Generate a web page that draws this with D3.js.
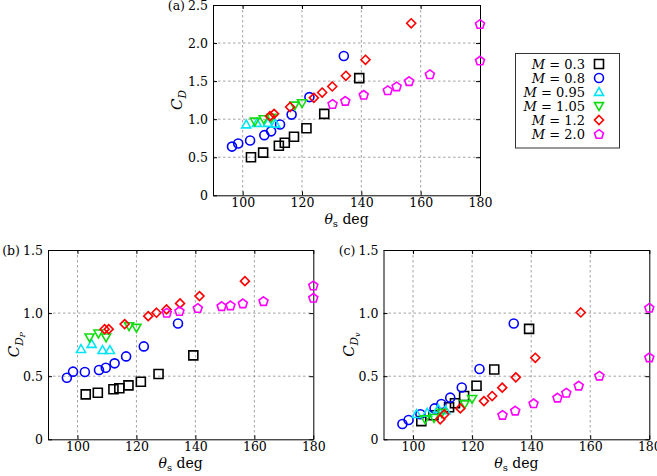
<!DOCTYPE html>
<html><head><meta charset="utf-8">
<script src="https://cdn.jsdelivr.net/npm/d3@7"></script>
<style>
html,body{margin:0;padding:0;background:#fff;}
svg{display:block;}
svg text{font-family:"DejaVu Serif",serif;}
</style></head>
<body>
<svg id="chart" width="657" height="476"></svg>
<script>
// ---------------- data ----------------
const seriesNames = ["0.3", "0.8", "0.95", "1.05", "1.2", "2.0"];
const xTicks = [100, 120, 140, 160, 180];
const yTicksA = [0, 0.5, 1.0, 1.5, 2.0, 2.5];
const yTicksBC = [0, 0.5, 1.0, 1.5];

const thetaM03 = [102.8, 106.9, 112.2, 114.2, 117.3, 121.5, 127.5, 139.3];
const cdM03    = [0.50, 0.56, 0.65, 0.69, 0.77, 0.88, 1.07, 1.54];
const cdpM03   = [0.356, 0.369, 0.396, 0.404, 0.427, 0.456, 0.517, 0.665];
const cdvM03   = [0.144, 0.19, 0.254, 0.286, 0.343, 0.424, 0.553, 0.875];

const thetaM08 = [96.4, 98.5, 102.5, 107.3, 109.6, 112.6, 116.5, 122.5, 134.1];
const cdM08    = [0.64, 0.68, 0.72, 0.79, 0.84, 0.93, 1.06, 1.29, 1.83];
const cdpM08   = [0.488, 0.536, 0.533, 0.549, 0.567, 0.602, 0.657, 0.736, 0.918];
const cdvM08   = [0.121, 0.153, 0.198, 0.245, 0.28, 0.33, 0.41, 0.557, 0.918];

const thetaM095 = [101.2, 104.8, 108.5, 111.0];
const cdM095    = [0.93, 0.95, 0.95, 0.94];
const cdpM095   = [0.715, 0.755, 0.707, 0.707];
const cdvM095   = [0.20, 0.21, 0.24, 0.23];

const thetaM105 = [104.1, 107.1, 109.7, 117.5, 120.0];
const cdM105    = [0.97, 1.00, 1.02, 1.18, 1.21];
const cdpM105   = [0.808, 0.839, 0.808, 0.897, 0.884];
const cdvM105   = [0.16, 0.17, 0.21, 0.28, 0.32];

const thetaM12 = [109.2, 110.6, 116.0, 124.0, 126.8, 130.2, 134.8, 141.4, 156.8];
const cdM12    = [1.04, 1.07, 1.16, 1.28, 1.35, 1.43, 1.57, 1.78, 2.26];
const cdpM12   = [0.873, 0.873, 0.913, 0.976, 1.003, 1.029, 1.077, 1.135, 1.253];
const cdvM12   = [0.158, 0.198, 0.245, 0.303, 0.343, 0.409, 0.491, 0.646, 1.005];

const thetaM20 = [130.3, 134.6, 140.8, 148.9, 151.9, 156.1, 163.1, 180, 180];
const cdM20    = [1.20, 1.24, 1.32, 1.38, 1.43, 1.50, 1.59, 2.25, 1.77];
const cdpM20   = [1.003, 1.016, 1.040, 1.055, 1.061, 1.077, 1.095, 1.219, 1.121];
const cdvM20   = [0.193, 0.227, 0.285, 0.33, 0.369, 0.425, 0.504, 1.042, 0.649];

// ---------------- styling ----------------
const colors = ["#000000", "#0000ff", "#00e4f4", "#10dd10", "#ff0000", "#ff00ff"];
const shapes = ["square", "circle", "up", "down", "diamond", "pentagon"];
const thetas = [thetaM03, thetaM08, thetaM095, thetaM105, thetaM12, thetaM20];
const cds  = [cdM03, cdM08, cdM095, cdM105, cdM12, cdM20];
const cdps = [cdpM03, cdpM08, cdpM095, cdpM105, cdpM12, cdpM20];
const cdvs = [cdvM03, cdvM08, cdvM095, cdvM105, cdvM12, cdvM20];

const FONT = 12.5;

function markerPath(shape) {
  const s = 4.5;
  switch (shape) {
    case "square": return `M${-s},${-s}H${s}V${s}H${-s}Z`;
    case "circle": return `M${s},0A${s},${s} 0 1,1 ${-s},0A${s},${s} 0 1,1 ${s},0Z`;
    case "up": return `M0,${-s}L${s},${s*0.75}L${-s},${s*0.75}Z`;
    case "down": return `M0,${s}L${s},${-s*0.75}L${-s},${-s*0.75}Z`;
    case "diamond": return `M0,${-s}L${s},0L0,${s}L${-s},0Z`;
    case "pentagon": {
      const pts = d3.range(5).map(i => {
        const a = -Math.PI/2 + i*2*Math.PI/5;
        return [s*1.05*Math.cos(a), s*1.05*Math.sin(a) + 0.4];
      });
      return "M" + pts.map(p => p.join(",")).join("L") + "Z";
    }
  }
}

const svg = d3.select("#chart");

const panels = [
  {tag: "(a)", left: 213, right: 480, bottom: 195.3, top: 5, ymax: 2.5, yTicks: yTicksA, values: cds,
   ylab: "D", ylabSub: null, ylabX: 177},
  {tag: "(b)", left: 48, right: 313.3, bottom: 439.3, top: 250, ymax: 1.5, yTicks: yTicksBC, values: cdps,
   ylab: "D", ylabSub: "P", ylabX: 14},
  {tag: "(c)", left: 383.5, right: 649.3, bottom: 439.3, top: 250, ymax: 1.5, yTicks: yTicksBC, values: cdvs,
   ylab: "D", ylabSub: "v", ylabX: 349}
];

panels.forEach(p => {
  const x = d3.scaleLinear().domain([90, 180]).range([p.left, p.right]);
  const y = d3.scaleLinear().domain([0, p.ymax]).range([p.bottom, p.top]);
  const g = svg.append("g");

  // grid
  g.append("g").selectAll("line").data(xTicks.filter(t => t < 180)).join("line")
    .attr("x1", d => x(d)).attr("x2", d => x(d)).attr("y1", p.top).attr("y2", p.bottom)
    .attr("stroke", "#8a8a8a").attr("stroke-width", 0.8).attr("stroke-dasharray", "2.5,2.5");
  g.append("g").selectAll("line").data(p.yTicks.filter(t => t > 0 && t < p.ymax)).join("line")
    .attr("x1", p.left).attr("x2", p.right).attr("y1", d => y(d)).attr("y2", d => y(d))
    .attr("stroke", "#8a8a8a").attr("stroke-width", 0.8).attr("stroke-dasharray", "2.5,2.5");

  // axes
  const fmt = d => d === 0 ? "0" : d3.format(".1f")(d);
  const ax = g.append("g").attr("transform", `translate(0,${p.bottom})`)
    .call(d3.axisBottom(x).tickValues(xTicks).tickSizeInner(-4).tickSizeOuter(0).tickPadding(2.5).tickFormat(d3.format("d")));
  const ay = g.append("g").attr("transform", `translate(${p.left},0)`)
    .call(d3.axisLeft(y).tickValues(p.yTicks).tickSizeInner(-4).tickSizeOuter(0).tickPadding(5).tickFormat(fmt));
  const axT = g.append("g").attr("transform", `translate(0,${p.top})`)
    .call(d3.axisTop(x).tickValues(xTicks).tickSizeInner(-4).tickSizeOuter(0).tickFormat(""));
  const ayR = g.append("g").attr("transform", `translate(${p.right},0)`)
    .call(d3.axisRight(y).tickValues(p.yTicks).tickSizeInner(-4).tickSizeOuter(0).tickFormat(""));
  [ax, ay, axT, ayR].forEach(a => {
    a.attr("font-family", null).attr("font-size", null);
    a.select(".domain").attr("stroke", "#000").attr("stroke-width", 1);
    a.selectAll(".tick line").attr("stroke", "#000");
    a.selectAll("text").attr("font-size", FONT).attr("fill", "#000");
  });

  // panel tag
  const ty = y(p.ymax) + 1;
  g.append("text").attr("x", p.left - 28).attr("y", ty)
    .attr("dy", "0.32em").attr("text-anchor", "end").attr("font-size", FONT).text(p.tag);

  // x label
  const xl = g.append("text")
    .attr("x", (p.left + p.right) / 2).attr("y", p.bottom + 28.5)
    .attr("text-anchor", "middle").attr("font-size", 14);
  xl.append("tspan").attr("font-style", "italic").text("θ");
  xl.append("tspan").attr("font-size", 10).attr("dy", 3).text("s");
  xl.append("tspan").attr("dy", -3).text(" deg");

  // y label
  const yc = (p.top + p.bottom) / 2;
  const yl = g.append("text").attr("transform", `translate(${p.ylabX},${yc}) rotate(-90)`)
    .attr("text-anchor", "middle").attr("font-size", 15).attr("font-style", "italic").attr("dy", "0.35em");
  yl.append("tspan").text("C");
  yl.append("tspan").attr("font-size", 10.5).attr("dy", 4).text(p.ylab);
  if (p.ylabSub) yl.append("tspan").attr("font-size", 8).attr("dy", 2).text(p.ylabSub);

  // markers
  seriesNames.forEach((name, i) => {
    const pts = thetas[i].map((t, j) => [t, p.values[i][j]]);
    g.append("g").selectAll("path").data(pts).join("path")
      .attr("transform", d => `translate(${x(d[0])},${y(d[1])})`)
      .attr("d", markerPath(shapes[i]))
      .attr("fill", "none").attr("stroke", colors[i]).attr("stroke-width", 1.6);
  });
});

// legend
const lg = svg.append("g");
lg.append("rect").attr("x", 515.5).attr("y", 53.5).attr("width", 104).attr("height", 94.5)
  .attr("fill", "#fff").attr("stroke", "#333").attr("stroke-width", 1);
seriesNames.forEach((name, i) => {
  const by = 68.5 + i * 14;
  const t = lg.append("text").attr("x", 585).attr("y", by)
    .attr("text-anchor", "end").attr("font-size", 13);
  t.append("tspan").attr("font-style", "italic").text("M");
  t.append("tspan").text(" = " + name);
  lg.append("path").attr("transform", `translate(599,${by - 4.5})`).attr("d", markerPath(shapes[i]))
    .attr("fill", "none").attr("stroke", colors[i]).attr("stroke-width", 1.6);
});
</script>
</body></html>
